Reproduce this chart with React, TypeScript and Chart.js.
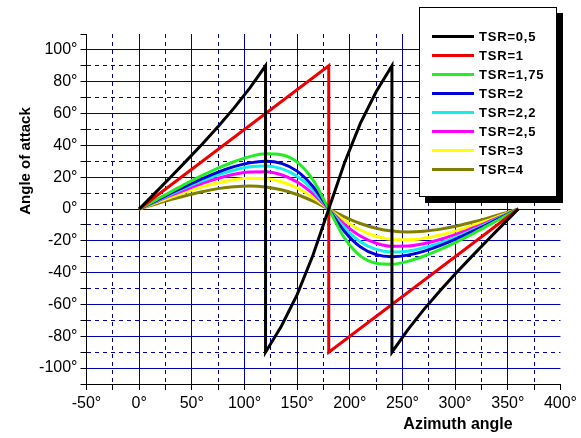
import React, { useEffect, useRef } from 'react';
import Chart from 'chart.js/auto';

// azimuth angle (deg) for the smooth curves
const AZIMUTH = [0, 15, 30, 45, 60, 75, 90, 105, 120, 135, 150, 165, 180, 195, 210, 225, 240, 255, 270, 285, 300, 315, 330, 345, 360];

// TSR=0,5 and TSR=1 jump from +90 to -90, so they carry their own x values
const TSR_05_X = [0, 15, 30, 45, 60, 75, 90, 105, 120, 120, 135, 150, 165, 180, 195, 210, 225, 240, 240, 255, 270, 285, 300, 315, 330, 345, 360];
const TSR_05_Y = [0, 10.0, 20.1, 30.4, 40.9, 51.9, 63.4, 76.0, 90, -90, -73.7, -53.8, -29.1, 0, 29.1, 53.8, 73.7, 90, -90, -76.0, -63.4, -51.9, -40.9, -30.4, -20.1, -10.0, 0];
const TSR_1_X = [0, 180, 180, 360];
const TSR_1_Y = [0, 90, -90, 0];

const TSR_175 = [0, 5.4, 10.8, 16.1, 21.1, 25.7, 29.7, 32.9, 34.7, 34.1, 29.5, 18.3, 0, -18.3, -29.5, -34.1, -34.7, -32.9, -29.7, -25.7, -21.1, -16.1, -10.8, -5.4, 0];
const TSR_2 = [0, 5.0, 9.9, 14.6, 19.1, 23.2, 26.6, 29.0, 30.0, 28.7, 23.8, 14.1, 0, -14.1, -23.8, -28.7, -30.0, -29.0, -26.6, -23.2, -19.1, -14.6, -9.9, -5.0, 0];
const TSR_22 = [0, 4.7, 9.3, 13.7, 17.8, 21.5, 24.4, 26.5, 27.0, 25.4, 20.6, 11.8, 0, -11.8, -20.6, -25.4, -27.0, -26.5, -24.4, -21.5, -17.8, -13.7, -9.3, -4.7, 0];
const TSR_25 = [0, 4.3, 8.5, 12.4, 16.1, 19.3, 21.8, 23.3, 23.4, 21.5, 17.0, 9.6, 0, -9.6, -17.0, -21.5, -23.4, -23.3, -21.8, -19.3, -16.1, -12.4, -8.5, -4.3, 0];
const TSR_3 = [0, 3.7, 7.4, 10.8, 13.9, 16.5, 18.4, 19.4, 19.1, 17.1, 13.2, 7.3, 0, -7.3, -13.2, -17.1, -19.1, -19.4, -18.4, -16.5, -13.9, -10.8, -7.4, -3.7, 0];
const TSR_4 = [0, 3.0, 5.9, 8.5, 10.9, 12.8, 14.0, 14.5, 13.9, 12.1, 9.1, 4.9, 0, -4.9, -9.1, -12.1, -13.9, -14.5, -14.0, -12.8, -10.9, -8.5, -5.9, -3.0, 0];

const SERIES_LABELS = ['TSR=0,5', 'TSR=1', 'TSR=1,75', 'TSR=2', 'TSR=2,2', 'TSR=2,5', 'TSR=3', 'TSR=4'];
const SERIES_COLORS = ['#000000', '#ee0000', '#22ee22', '#0000dd', '#11eeee', '#ff00ff', '#ffff00', '#808000'];

const GRID = '#0000aa';
const FONT = '"Liberation Sans", Arial, sans-serif';

const toPoints = (xs: number[], ys: number[]) => xs.map((x, i) => ({ x, y: ys[i] }));

const axisTitles = {
  id: 'axisTitles',
  afterDraw(chart: any) {
    const ctx = chart.ctx;
    ctx.save();
    ctx.fillStyle = '#000';
    ctx.textAlign = 'center';
    ctx.textBaseline = 'middle';
    ctx.font = `bold 16px ${FONT}`;
    ctx.fillText('Azimuth angle', 458, 425);
    ctx.translate(26, 161);
    ctx.rotate(-Math.PI / 2);
    ctx.font = `bold 15px ${FONT}`;
    ctx.fillText('Angle of attack', 0, 0);
    ctx.restore();
  },
};

const App: React.FC = () => {
  const chartRef = useRef<HTMLCanvasElement | null>(null);

  useEffect(() => {
    if (!chartRef.current) return;
    const ctx = chartRef.current.getContext('2d');
    if (!ctx) return;

    const ys = [TSR_175, TSR_2, TSR_22, TSR_25, TSR_3, TSR_4];
    const datasets: any[] = [
      { data: toPoints(TSR_05_X, TSR_05_Y), tension: 0 },
      { data: toPoints(TSR_1_X, TSR_1_Y), tension: 0 },
      ...ys.map((y) => ({ data: toPoints(AZIMUTH, y), cubicInterpolationMode: 'monotone' })),
    ].map((d, i) => ({
      ...d,
      label: SERIES_LABELS[i],
      borderColor: SERIES_COLORS[i],
      backgroundColor: SERIES_COLORS[i],
      borderWidth: 3,
      pointRadius: 0,
      fill: false,
    }));

    const chart = new Chart(ctx, {
      type: 'line',
      data: { datasets },
      plugins: [axisTitles],
      options: {
        responsive: true,
        maintainAspectRatio: false,
        animation: false,
        layout: { padding: { top: 34, right: 20, left: 0, bottom: 0 } },
        plugins: {
          legend: { display: false },
          tooltip: { enabled: false },
        },
        scales: {
          x: {
            type: 'linear',
            min: -50,
            max: 400,
            afterFit: (axis: any) => { axis.height = 54; },
            ticks: {
              stepSize: 25,
              autoSkip: false,
              maxRotation: 0,
              padding: 4,
              color: '#000',
              font: { family: FONT, size: 16 },
              callback: (v: any) => (Number(v) % 50 === 0 ? `${v}°` : ''),
            },
            grid: {
              color: (c: any) => {
                const v = c.tick ? c.tick.value : 0;
                return v === -50 || v === 400 ? 'rgba(0,0,0,0)' : GRID;
              },
              lineWidth: 1,
              tickColor: '#000',
              tickLength: 6,
            },
            border: {
              color: '#000',
              width: 1,
              dash: (c: any) => (c.tick && c.tick.value % 50 !== 0 ? [4, 4] : []),
            },
          },
          y: {
            type: 'linear',
            min: -110,
            max: 110,
            afterFit: (axis: any) => { axis.width = 86.5; },
            ticks: {
              stepSize: 10,
              autoSkip: false,
              padding: 3,
              color: '#000',
              font: { family: FONT, size: 16 },
              callback: (v: any) => (Number(v) % 20 === 0 && Math.abs(Number(v)) <= 100 ? `${v}°` : ''),
            },
            grid: {
              color: (c: any) => {
                const v = c.tick ? c.tick.value : 0;
                return Math.abs(v) > 100 ? 'rgba(0,0,0,0)' : GRID;
              },
              lineWidth: 1,
              tickColor: '#000',
              tickLength: 6,
            },
            border: {
              color: '#000',
              width: 1,
              dash: (c: any) => (c.tick && c.tick.value % 20 !== 0 ? [4, 4] : []),
            },
          },
        },
      },
    });

    return () => {
      chart.destroy();
    };
  }, []);

  return (
    <div style={{ position: 'absolute', left: 0, top: 0, width: 581, height: 438, background: '#fff' }}>
      <canvas ref={chartRef}></canvas>
      <div
        style={{
          position: 'absolute',
          left: 419,
          top: 7,
          width: 138,
          height: 190,
          boxSizing: 'border-box',
          border: '1px solid #000',
          background: '#fff',
          boxShadow: '6px 6px 0 #000',
          paddingTop: 19,
          paddingLeft: 12,
        }}
      >
        {SERIES_LABELS.map((label, i) => (
          <div key={label} style={{ display: 'flex', alignItems: 'center', height: 19 }}>
            <span style={{ display: 'inline-block', width: 42, height: 3, background: SERIES_COLORS[i], marginRight: 5 }} />
            <span style={{ fontFamily: FONT, fontWeight: 'bold', fontSize: 13, letterSpacing: 0.8, color: '#000' }}>{label}</span>
          </div>
        ))}
      </div>
    </div>
  );
};

export default App;
